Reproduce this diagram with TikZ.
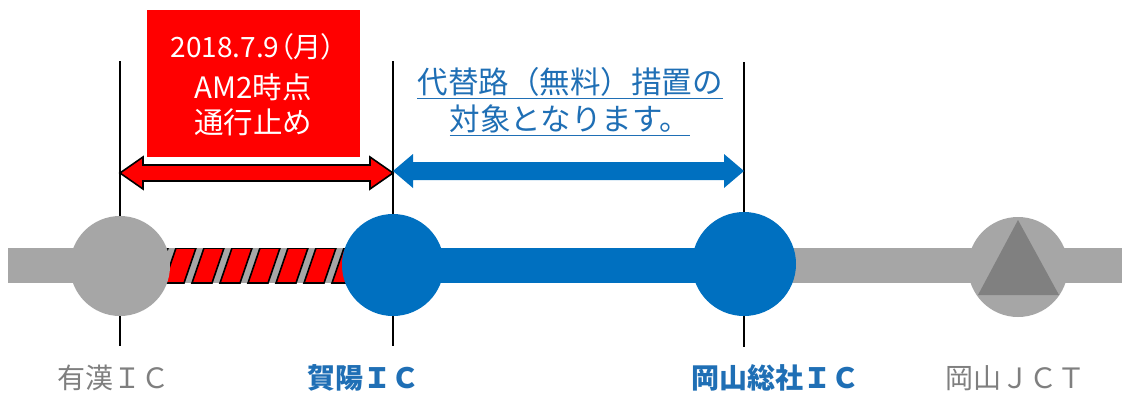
\documentclass[tikz,border=0pt]{standalone}
\usepackage{fontspec}
\newfontfamily\cjk{Noto Sans CJK JP}
\newfontfamily\cjkp[RawFeature={+palt}]{Noto Sans CJK JP}
\definecolor{roadgray}{HTML}{A6A6A6}
\definecolor{trigray}{HTML}{808080}
\definecolor{labelgray}{HTML}{7F7F7F}
\definecolor{icblue}{HTML}{0070C0}
\definecolor{txtblue}{HTML}{1F6FB5}
\definecolor{boxred}{HTML}{FF0000}
\tikzset{
  tick/.style={line width=2pt, black},
  stripe/.style={fill=boxred, draw=black, line width=1.6pt},
  boxtext/.style={font=\cjk\fontsize{29.5}{34}\selectfont, text=white, inner sep=0pt},
  boxdate/.style={font=\cjkp\fontsize{28}{32}\selectfont, text=white, inner sep=0pt},
  bluetext/.style={font=\cjk\fontsize{30.5}{36}\selectfont, text=txtblue, inner sep=0pt},
  graylabel/.style={font=\cjk\fontsize{28}{32}\selectfont, text=labelgray, inner sep=0pt},
  bluelabel/.style={font=\cjk\bfseries\fontsize{28}{32}\selectfont, text=txtblue, inner sep=0pt},
  redarrow/.style={fill=boxred, draw=black, line width=1.6pt, line join=miter},
  bluearrow/.style={fill=icblue},
}
\begin{document}
\begin{tikzpicture}[x=1pt,y=-1pt]
\useasboundingbox (0,0) rectangle (1122,394);
\fill[white] (0,0) rectangle (1122,394);
% interchange positions
\coordinate (uk) at (120,266);
\coordinate (ky) at (393,265);
\coordinate (os) at (744,264);
\coordinate (jct) at (1018,267);
% vertical guide lines
\draw[tick] (120,61) -- (120,346);
\draw[tick] (393,61) -- (393,346);
\draw[tick] (744,62) -- (744,347);
% road
\fill[roadgray] (8,248) rectangle (1122,283);
% hatched closed section
\begin{scope}
  \clip (165,248) rectangle (350,283);
  \foreach \k in {-1,...,7} {
    \filldraw[stripe] (164+28*\k,283) -- ++(20,0) -- ++(12,-35) -- ++(-20,0) -- cycle;
  }
\end{scope}
% free section road
\fill[icblue] (393,248) rectangle (744,283);
% interchange circles
\fill[roadgray] (uk) circle (50pt);
\fill[icblue] (ky) circle (51pt);
\fill[icblue] (os) circle (52pt);
\fill[roadgray] (jct) circle (50pt);
\fill[trigray] (1018,220) -- (978,295) -- (1059,295) -- cycle;
% red box
\fill[boxred] (147,10) rectangle (360,157);
\node[boxdate] (b1) at (253,47) {2018.7.9（月）};
\node[boxtext] (b2) at (253,87) {AM2時点};
\node[boxtext] (b3) at (253,122) {通行止め};
% red double arrow
\filldraw[redarrow] (120,173) -- (143,157) -- (143,165) -- (370,165) -- (370,157) -- (393,173)
   -- (370,189) -- (370,181) -- (143,181) -- (143,189) -- cycle;
% blue double arrow
\fill[bluearrow] (393,171) -- (413,154) -- (413,162) -- (724,162) -- (724,154) -- (744,171)
   -- (724,188) -- (724,180) -- (413,180) -- (413,188) -- cycle;
% blue text with underline
\node[bluetext] (t1) at (570,82) {代替路（無料）措置の};
\node[bluetext] (t2) at (570,119) {対象となります。};
\draw[txtblue, line width=1.5pt] ([yshift=-2pt]t1.south west) -- ([yshift=-2pt]t1.south east);
\draw[txtblue, line width=1.5pt] ([yshift=-2pt]t2.south west) -- ([yshift=-2pt]t2.south east);
% labels
\node[graylabel] (l1) at (113,378) {有漢ＩＣ};
\node[bluelabel] (l2) at (363,378) {賀陽ＩＣ};
\node[bluelabel] (l3) at (775,378) {岡山総社ＩＣ};
\node[graylabel] (l4) at (1015,378) {岡山ＪＣＴ};
\end{tikzpicture}
\end{document}
